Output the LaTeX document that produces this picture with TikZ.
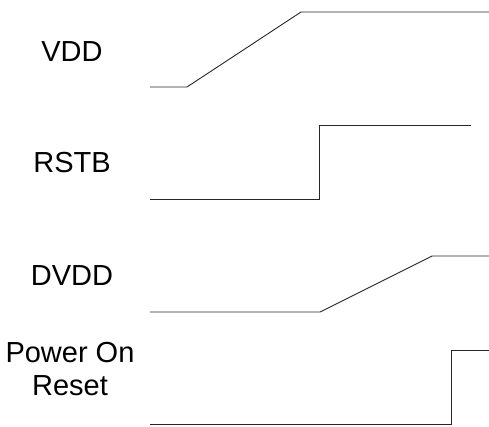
\documentclass[tikz,border=0pt]{standalone}
\usepackage{fontspec}
\setmainfont{Liberation Sans}
\usetikzlibrary{calc, positioning}

\begin{document}
\begin{tikzpicture}
              [x=1pt, y=-1pt, font=\fontsize{29}{33}\selectfont,
               wave/.style={line width= 0.9, black!85}]
              \useasboundingbox (0,0) rectangle (489,426);

              % nodes %
              \node[text centered] (vdd) at (72,52) {VDD};
              \node[text centered] (rstb) at (72,163) {RSTB};
              \node[text centered] (dvdd) at (72,276) {DVDD};
              \node[text centered, align=center] (por) at (70,369) {Power On\\Reset};

              % edges %
              \coordinate (v0) at (150,87);  \coordinate (v1) at (187,87);
              \coordinate (v2) at (301,12);  \coordinate (v3) at (489,12);
              \coordinate (r0) at (150,199); \coordinate (r1) at (319,199);
              \coordinate (r2) at (319,125); \coordinate (r3) at (471,125);
              \coordinate (d0) at (150,312); \coordinate (d1) at (320,312);
              \coordinate (d2) at (432,256); \coordinate (d3) at (489,256);
              \coordinate (p0) at (150,424); \coordinate (p1) at (451,424);
              \coordinate (p2) at (451,350); \coordinate (p3) at (489,350);

              \draw[wave] (v0) -- (v1) -- (v2) -- (v3);
              \draw[wave] (r0) -- (r1) -- (r2) -- (r3);
              \draw[wave] (d0) -- (d1) -- (d2) -- (d3);
              \draw[wave] (p0) -- (p1) -- (p2) -- (p3);
            \end{tikzpicture}
\end{document}
